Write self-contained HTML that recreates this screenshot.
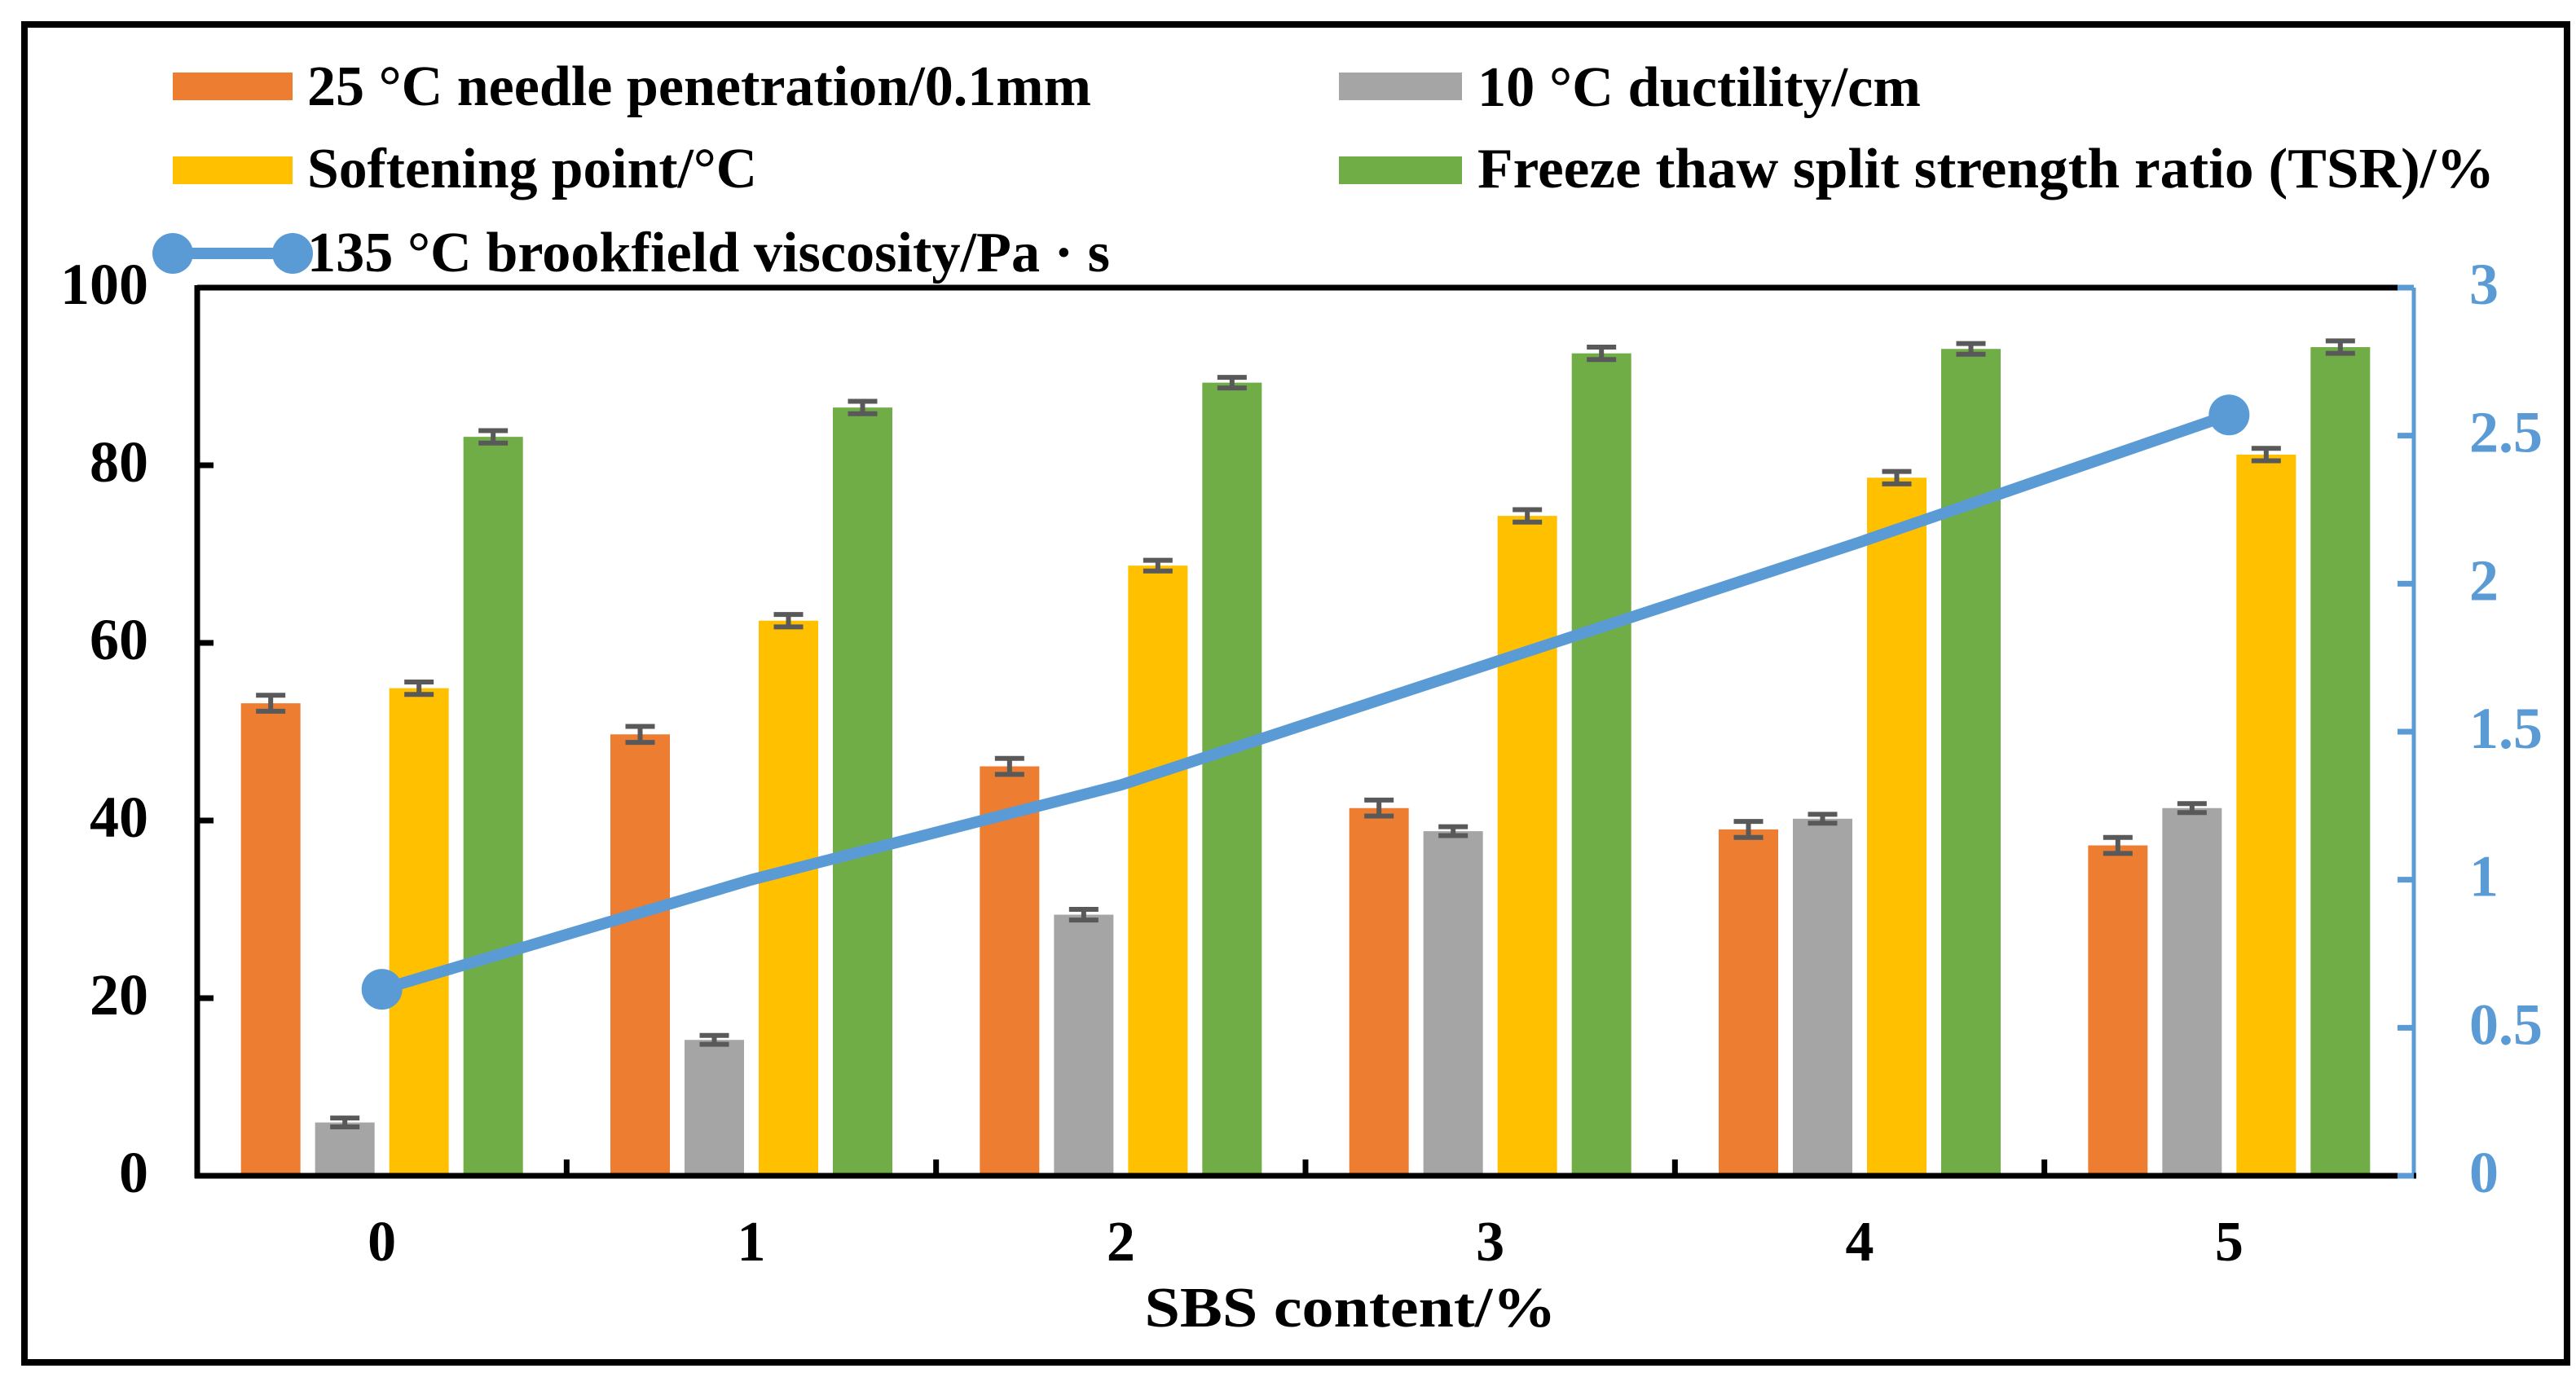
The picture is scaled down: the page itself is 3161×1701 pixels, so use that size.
<!DOCTYPE html>
<html><head><meta charset="utf-8"><style>html,body{margin:0;padding:0;background:#fff}svg{display:block}text{font-family:"Liberation Serif",serif;font-weight:bold}</style></head>
<body>
<svg id="chart" width="3161" height="1701" viewBox="0 0 3161 1701" xmlns="http://www.w3.org/2000/svg">
<rect x="30" y="30" width="3120" height="1642" fill="#fff" stroke="#000" stroke-width="8"/>
<g id="legend">
 <rect x="212" y="89" width="147" height="34" fill="#ED7D31"/>
 <text x="377" y="129" font-size="70" textLength="962" lengthAdjust="spacingAndGlyphs">25 °C needle penetration/0.1mm</text>
 <rect x="212" y="192" width="147" height="34" fill="#FFC000"/>
 <text x="377" y="230" font-size="70" textLength="552" lengthAdjust="spacingAndGlyphs">Softening point/°C</text>
 <line x1="212" y1="311" x2="359" y2="311" stroke="#5B9BD5" stroke-width="14"/>
 <ellipse cx="212" cy="311" rx="25" ry="25" fill="#5B9BD5"/>
 <ellipse cx="359" cy="311" rx="25" ry="25" fill="#5B9BD5"/>
 <text x="377" y="333" font-size="70" textLength="985" lengthAdjust="spacingAndGlyphs">135 °C brookfield viscosity/Pa · s</text>
 <rect x="1643" y="89" width="151" height="34" fill="#A5A5A5"/>
 <text x="1813" y="130" font-size="70" textLength="544" lengthAdjust="spacingAndGlyphs">10 °C ductility/cm</text>
 <rect x="1643" y="192" width="151" height="34" fill="#70AD47"/>
 <text x="1813" y="230" font-size="70" textLength="1248" lengthAdjust="spacingAndGlyphs">Freeze thaw split strength ratio (TSR)/%</text>
</g>
<g id="plot"></g>
<text x="1657" y="1628" font-size="70" text-anchor="middle" textLength="505" lengthAdjust="spacingAndGlyphs">SBS content/%</text>
</svg>
<script>
const categories = ["0","1","2","3","4","5"];
const penetration = [53.2, 49.7, 46.1, 41.4, 39.0, 37.2];
const ductility = [6.0, 15.3, 29.4, 38.8, 40.2, 41.4];
const softening = [54.9, 62.5, 68.7, 74.3, 78.6, 81.2];
const tsr = [83.2, 86.5, 89.3, 92.6, 93.1, 93.3];
const errPen = [0.9, 0.9, 0.9, 0.9, 0.9, 0.9];
const errDuc = [0.5, 0.5, 0.6, 0.5, 0.5, 0.5];
const errSof = [0.7, 0.7, 0.6, 0.7, 0.7, 0.7];
const errTsr = [0.7, 0.7, 0.6, 0.7, 0.6, 0.7];
const viscosity = [0.63, 1.00, 1.32, 1.73, 2.14, 2.57];
const leftTicks = [0, 20, 40, 60, 80, 100];
const rightTicks = [0, 0.5, 1, 1.5, 2, 2.5, 3];
const rightTickLabels = ["0","0.5","1","1.5","2","2.5","3"];

const NS = "http://www.w3.org/2000/svg";
const plotG = document.getElementById('plot');
const L = 242, R = 2962, T = 353, B = 1443;
const gw = (R - L) / categories.length;
const yL = v => B - v / 100 * (B - T);
const yR = v => B - v / 3 * (B - T);
const xC = i => L + gw * (i + 0.5);
function mk(tag, attrs) { const e = document.createElementNS(NS, tag); for (const k in attrs) e.setAttribute(k, attrs[k]); plotG.appendChild(e); return e; }

const series = [
  {vals: penetration, err: errPen, color: "#ED7D31", name: "penetration"},
  {vals: ductility, err: errDuc, color: "#A5A5A5", name: "ductility"},
  {vals: softening, err: errSof, color: "#FFC000", name: "softening"},
  {vals: tsr, err: errTsr, color: "#70AD47", name: "tsr"}
];
const bw = 73, pitch = 91;
series.forEach((s, si) => {
  s.vals.forEach((v, i) => {
    const x = L + gw * i + (gw - (3 * pitch + bw)) / 2 + si * pitch;
    const b = mk('rect', {x: x, y: yL(v), width: bw, height: B - yL(v), fill: s.color});
    
    
    const cx = x + bw / 2, y1 = yL(v + s.err[i]), y2 = yL(v - s.err[i]);
    const eb = mk('path', {d: `M${cx},${y1}V${y2}M${cx-18},${y1}H${cx+18}M${cx-18},${y2}H${cx+18}`, stroke: "#595959", "stroke-width": 6, fill: "none"});
    
    
  });
});

const topBorder = mk('line', {x1: L, y1: T, x2: R, y2: T, stroke: "#000", "stroke-width": 7});


const leftAxis = mk('line', {x1: L, y1: T - 3, x2: L, y2: B + 3, stroke: "#000", "stroke-width": 7});


const rightAxis = mk('line', {x1: R, y1: T, x2: R, y2: B, stroke: "#5B9BD5", "stroke-width": 5});


const xAxis = mk('line', {x1: L - 3, y1: B, x2: R + 3, y2: B, stroke: "#000", "stroke-width": 7});



leftTicks.forEach(v => {
  const t = mk('line', {x1: L, y1: yL(v), x2: L + 20, y2: yL(v), stroke: "#000", "stroke-width": 7});
  
  
  const tx = mk('text', {x: 182, y: yL(v) + 20, "font-size": 72, "text-anchor": "end"});
  tx.textContent = v;
  
  
});
rightTicks.forEach((v, i) => {
  const t = mk('line', {x1: R - 20, y1: yR(v), x2: R, y2: yR(v), stroke: "#5B9BD5", "stroke-width": 7});
  
  
  const tx = mk('text', {x: 3030, y: yR(v) + 20, "font-size": 72, fill: "#5B9BD5"});
  tx.textContent = rightTickLabels[i];
  
  
});
for (let i = 1; i < categories.length; i++) {
  const t = mk('line', {x1: L + gw * i, y1: B, x2: L + gw * i, y2: B - 20, stroke: "#000", "stroke-width": 7});
  
  
}
categories.forEach((c, i) => {
  const tx = mk('text', {x: xC(i), y: 1547, "font-size": 70, "text-anchor": "middle"});
  tx.textContent = c;
  
  
});

const pts = viscosity.map((v, i) => xC(i) + ',' + yR(v)).join(' ');
const pl = mk('polyline', {points: pts, fill: "none", stroke: "#5B9BD5", "stroke-width": 14, "stroke-linejoin": "round"});


[0, viscosity.length - 1].forEach(i => {
  const m = mk('ellipse', {cx: xC(i), cy: yR(viscosity[i]), rx: 25, ry: 25, fill: "#5B9BD5"});
  
  
});
</script>
</body></html>
